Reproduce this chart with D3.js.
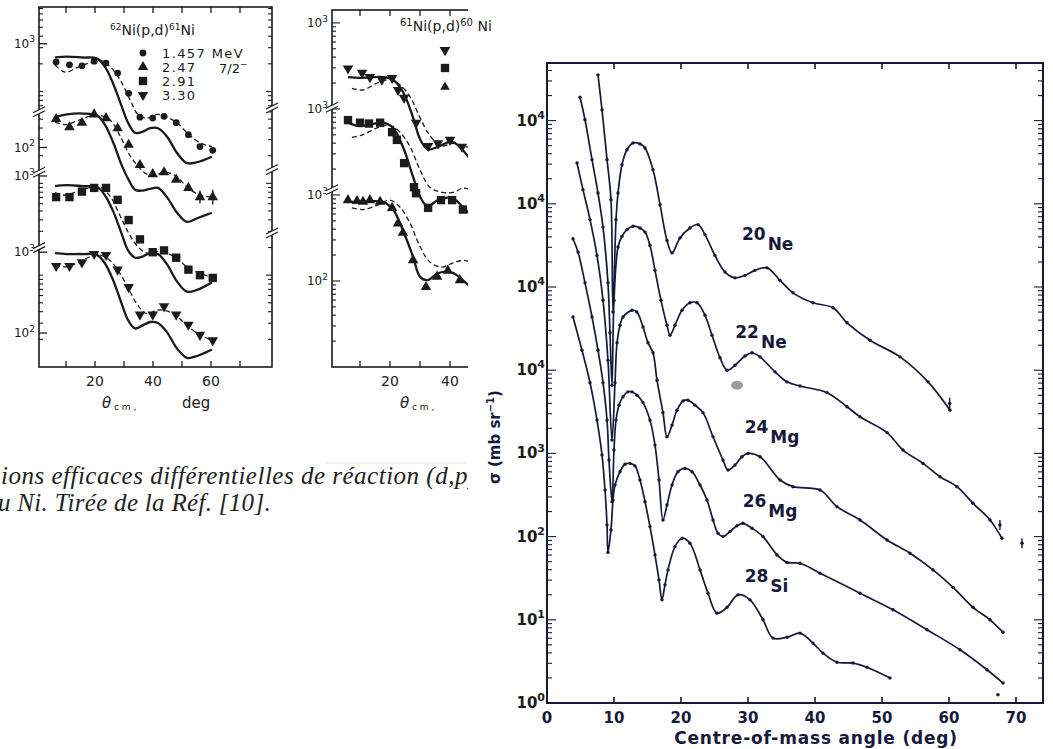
<!DOCTYPE html>
<html>
<head>
<meta charset="utf-8">
<script src="https://cdn.jsdelivr.net/npm/d3@7"></script>
<style>
  body { margin: 0; background: #fff; }
  svg { display: block; }
</style>
</head>
<body>
<svg id="figure"></svg>
<script>
// ---------------- right panel: elastic angular distributions ----------------
// values are log10(sigma) on the stacked (offset) axis, angles in degrees c.m.
const ne20Angle = [7.61, 8.21, 8.96, 9.55, 9.85, 10.30, 10.60, 11.19, 11.94, 12.84, 13.88, 14.63, 15.82, 16.87, 17.91, 18.66, 19.85, 21.34, 22.54, 23.58, 25.07, 26.57, 28.06, 29.55, 31.04, 32.84, 34.78, 36.72, 39.70, 42.69, 44.78, 48.21, 52.69, 56.87, 60.15];
const ne20Log = [7.55, 7.13, 6.53, 6.05, 4.70, 5.81, 6.13, 6.47, 6.65, 6.73, 6.72, 6.67, 6.41, 5.99, 5.56, 5.41, 5.59, 5.71, 5.75, 5.63, 5.38, 5.18, 5.11, 5.14, 5.20, 5.23, 5.08, 4.93, 4.81, 4.75, 4.57, 4.36, 4.16, 3.86, 3.52];

const ne22Angle = [4.93, 5.67, 6.72, 7.61, 8.36, 9.10, 9.40, 9.70, 10.0, 10.60, 11.19, 11.94, 12.84, 13.88, 14.63, 15.37, 16.12, 17.01, 17.91, 18.36, 19.10, 20.15, 21.34, 22.39, 23.58, 24.63, 25.82, 26.87, 28.06, 29.55, 30.60, 31.79, 34.03, 35.82, 37.76, 41.8, 44.78, 46.72, 50.75, 53.13, 56.12, 58.66, 61.19, 63.58, 66.12, 67.91];
const ne22Log = [7.28, 7.01, 6.53, 6.13, 5.72, 5.05, 4.45, 3.82, 4.84, 5.48, 5.61, 5.69, 5.73, 5.71, 5.66, 5.50, 5.20, 4.84, 4.54, 4.42, 4.54, 4.72, 4.81, 4.81, 4.66, 4.42, 4.15, 4.00, 4.06, 4.17, 4.21, 4.16, 3.98, 3.86, 3.81, 3.73, 3.56, 3.44, 3.25, 3.04, 2.88, 2.72, 2.60, 2.40, 2.20, 1.98];

const mg24Angle = [4.48, 5.37, 6.42, 7.46, 8.36, 9.10, 9.70, 10.15, 10.45, 10.90, 11.34, 12.69, 13.40, 14.33, 15.07, 15.82, 16.42, 17.31, 17.91, 18.66, 19.40, 20.30, 21.04, 22.09, 23.28, 24.78, 26.27, 27.01, 28.06, 29.10, 30.00, 31.79, 34.78, 36.72, 40.75, 43.28, 46.72, 50.75, 54.18, 57.61, 60.60, 63.58, 66.12, 68.06];
const mg24Log = [6.49, 6.17, 5.81, 5.38, 4.84, 4.12, 3.16, 3.85, 4.33, 4.54, 4.64, 4.72, 4.70, 4.52, 4.33, 4.21, 3.88, 3.49, 3.20, 3.34, 3.52, 3.63, 3.64, 3.58, 3.49, 3.20, 2.92, 2.80, 2.86, 2.96, 3.00, 2.96, 2.68, 2.60, 2.56, 2.36, 2.20, 1.96, 1.80, 1.60, 1.39, 1.15, 1.00, 0.85];

const mg26Angle = [3.88, 4.63, 5.67, 6.72, 7.61, 8.36, 8.96, 9.25, 9.70, 10.0, 10.30, 10.75, 11.34, 12.09, 12.69, 13.43, 14.33, 15.37, 16.12, 16.72, 17.31, 17.91, 18.66, 19.55, 20.60, 21.64, 22.84, 23.88, 24.78, 25.52, 26.27, 27.31, 28.36, 29.25, 30.60, 32.24, 34.33, 35.82, 37.76, 40.75, 46.72, 51.64, 56.72, 61.64, 65.67, 68.06];
const mg26Log = [5.58, 5.42, 5.05, 4.64, 4.24, 3.85, 3.40, 2.92, 2.42, 3.04, 3.40, 3.58, 3.68, 3.74, 3.74, 3.70, 3.61, 3.40, 3.10, 2.68, 2.20, 2.38, 2.62, 2.78, 2.82, 2.78, 2.62, 2.44, 2.20, 2.04, 2.00, 2.06, 2.13, 2.16, 2.10, 2.00, 1.78, 1.69, 1.68, 1.56, 1.32, 1.12, 0.88, 0.64, 0.40, 0.24];

const si28Angle = [3.88, 5.22, 6.42, 7.46, 8.21, 8.66, 8.96, 9.10, 9.55, 9.85, 10.15, 10.90, 11.64, 12.39, 13.13, 13.88, 14.63, 15.37, 16.12, 16.72, 17.16, 17.61, 18.06, 19.10, 20.15, 21.34, 22.84, 24.03, 25.37, 26.87, 28.51, 30.30, 32.24, 33.73, 35.82, 37.76, 39.70, 41.19, 43.28, 45.67, 47.76, 51.19];
const si28Log = [4.64, 4.24, 3.85, 3.40, 2.98, 2.56, 2.14, 1.81, 2.08, 2.44, 2.62, 2.78, 2.87, 2.88, 2.85, 2.68, 2.42, 2.12, 1.78, 1.48, 1.24, 1.42, 1.60, 1.88, 1.98, 1.92, 1.60, 1.32, 1.08, 1.15, 1.30, 1.24, 1.00, 0.78, 0.79, 0.84, 0.72, 0.60, 0.49, 0.48, 0.43, 0.30];

// isolated points at large angles (with error bars)
const extraAngle = [60.1, 67.6, 70.9, 67.3];
const extraLog = [3.60, 2.14, 1.92, 0.10];
const extraErr = [0.07, 0.06, 0.06, 0];

const nucleusMass = ["20", "22", "24", "26", "28"];
const nucleusName = ["Ne", "Ne", "Mg", "Mg", "Si"];
const nucleusLabelAngle = [29.1, 28.1, 29.5, 29.2, 29.5];
const nucleusLabelLog = [5.56, 4.39, 3.25, 2.36, 1.45];

const rightXTicks = [0, 10, 20, 30, 40, 50, 60, 70];
const rightDecades = [0, 1, 2, 3, 4, 5, 6, 7];
const rightDecadeText = ["0", "1", "2", "3", "4", "4", "4", "4"];

// ---------------- left panel 1: 62Ni(p,d)61Ni ----------------
const p1Levels = ["1.457 MeV", "2.47", "2.91", "3.30"];
const p1SolidAngle = [6.2, 10.3, 15.9, 20.7, 23.4, 26.2, 29.3, 31.4, 33.8, 36.2, 39.0, 41.7, 44.8, 48.3, 51.7, 55.2, 60.3];
const p1Solid1 = [3.37, 3.38, 3.37, 3.36, 3.27, 3.09, 2.83, 2.66, 2.55, 2.56, 2.60, 2.60, 2.51, 2.33, 2.22, 2.23, 2.29];
const p1Solid2 = [2.72, 2.75, 2.76, 2.74, 2.64, 2.45, 2.19, 2.05, 1.93, 1.92, 1.94, 1.95, 1.85, 1.68, 1.58, 1.62, 1.68];
const p1Solid3 = [1.97, 1.98, 1.97, 1.96, 1.87, 1.70, 1.44, 1.27, 1.19, 1.20, 1.24, 1.23, 1.12, 0.93, 0.82, 0.84, 0.92];
const p1Solid4 = [1.24, 1.23, 1.23, 1.22, 1.13, 0.95, 0.68, 0.51, 0.42, 0.45, 0.49, 0.48, 0.38, 0.20, 0.10, 0.12, 0.19];
const p1DashAngle = [6.2, 9.7, 13.8, 19.0, 21.7, 25.2, 28.6, 32.1, 34.8, 37.9, 41.4, 44.8, 48.3, 51.7, 56.2, 60.3];
const p1Dash1 = [3.29, 3.21, 3.26, 3.32, 3.34, 3.27, 3.13, 2.91, 2.75, 2.71, 2.75, 2.72, 2.66, 2.55, 2.44, 2.40];
const p1Dash2 = [2.67, 2.64, 2.68, 2.74, 2.74, 2.69, 2.52, 2.30, 2.19, 2.10, 2.10, 2.12, 2.07, 1.96, 1.87, 1.85];
const p1Dash3 = [1.90, 1.87, 1.91, 1.96, 1.96, 1.86, 1.65, 1.43, 1.31, 1.24, 1.26, 1.24, 1.18, 1.09, 1.02, 0.98];
const p1Dash4 = [1.11, 1.09, 1.13, 1.21, 1.22, 1.16, 1.02, 0.82, 0.67, 0.58, 0.62, 0.61, 0.55, 0.45, 0.35, 0.29];
const p1MarkAngle = [6.6, 11.2, 15.5, 19.7, 23.8, 27.8, 31.6, 35.5, 39.9, 43.8, 48.0, 52.2, 56.2, 60.6];
const p1Mark1 = [3.32, 3.29, 3.28, 3.33, 3.31, 3.20, 2.98, 2.72, 2.71, 2.73, 2.66, 2.53, 2.40, 2.36];
const p1Mark2 = [2.70, 2.61, 2.66, 2.75, 2.71, 2.60, 2.42, 2.20, 2.10, 2.12, 2.04, 1.95, 1.85, 1.85];
const p1Mark3 = [1.85, 1.85, 1.91, 1.95, 1.95, 1.82, 1.60, 1.39, 1.25, 1.27, 1.19, 1.06, 1.00, 0.97];
const p1Mark4 = [1.10, 1.10, 1.14, 1.23, 1.22, 1.06, 0.87, 0.57, 0.57, 0.66, 0.57, 0.46, 0.35, 0.29];
const p1Mark2Err = [0, 0, 0, 0, 0, 0, 0, 0, 0, 0, 0, 0, 0.07, 0.08];
const p1LabelLog = [3.52, 2.39, 2.08, 1.25, 0.37];
const p1LabelText = ["3", "2", "3", "3", "2"];
const p1BreakLeft = [2.78, 2.12, 1.30];
const p1BreakRight = [2.82, 2.15, 1.46];

// ---------------- left panel 2: 61Ni(p,d)60Ni ----------------
const p2SolidAngle = [6.0, 10.0, 17.7, 21.0, 24.3, 27.7, 30.0, 32.5, 36.0, 40.5, 44.3, 47.0];
const p2SolidA = [3.37, 3.36, 3.37, 3.34, 3.20, 2.90, 2.65, 2.53, 2.56, 2.62, 2.52, 2.40];
const p2SolidB = [2.84, 2.80, 2.84, 2.78, 2.56, 2.21, 1.98, 1.87, 1.94, 1.97, 1.86, 1.76];
const p2SolidC = [1.92, 1.92, 1.92, 1.83, 1.59, 1.28, 1.05, 1.01, 1.09, 1.10, 1.01, 0.92];
const p2DashAngle = [7.3, 11.0, 15.7, 20.0, 23.3, 26.7, 30.0, 33.3, 37.3, 41.0, 44.3, 47.0];
const p2DashA = [3.24, 3.22, 3.30, 3.34, 3.28, 3.14, 2.90, 2.69, 2.57, 2.60, 2.57, 2.55];
const p2DashB = [2.67, 2.70, 2.78, 2.81, 2.73, 2.56, 2.29, 2.09, 2.03, 2.03, 2.08, 2.06];
const p2DashC = [1.85, 1.83, 1.88, 1.94, 1.86, 1.67, 1.40, 1.22, 1.16, 1.21, 1.24, 1.22];
const p2MarkAngleA = [6.0, 10.7, 13.3, 17.3, 20.7, 22.7, 24.7, 28.7, 32.7, 36.0, 40.0, 44.0];
const p2MarkA = [3.47, 3.42, 3.37, 3.34, 3.36, 3.22, 3.13, 2.84, 2.57, 2.60, 2.64, 2.56];
const p2MarkAngleB = [6.0, 10.0, 13.0, 16.7, 20.7, 22.3, 24.7, 28.0, 28.7, 32.7, 37.0, 40.7, 44.3];
const p2MarkB = [2.87, 2.84, 2.83, 2.84, 2.73, 2.64, 2.37, 2.09, 2.02, 1.85, 1.94, 1.94, 1.83];
const p2MarkAngleC = [6.0, 9.0, 11.0, 13.3, 16.7, 20.7, 22.7, 24.3, 27.7, 32.0, 35.7, 39.3, 43.3];
const p2MarkC = [1.94, 1.93, 1.92, 1.94, 1.92, 1.85, 1.67, 1.56, 1.24, 0.93, 1.05, 1.12, 1.01];
const p2LabelLog = [4, 3, 2, 1];
const p2LabelText = ["3", "3", "3", "2"];
const p2BreakLeft = [3.02, 2.06];

const leftXTicks = [10, 20, 30, 40, 50, 60, 70];
const leftXLabels = [20, 40, 60];

// ---------------------------------------------------------------------------
const pw = v => Math.pow(10, v);
const ink = "#1b1b1b";
const navy = "#16193a";

const svg = d3.select("#figure")
  .attr("width", 1053)
  .attr("height", 749)
  .style("font-family", "'DejaVu Sans', sans-serif");

svg.append("rect").attr("width", 1053).attr("height", 749).attr("fill", "#fff");

svg.append("defs").append("clipPath").attr("id", "leftClip")
  .append("rect").attr("x", 0).attr("y", 0).attr("width", 468).attr("height", 749);

function curve(g, x, y, angles, logs, color, width, dash) {
  const line = d3.line()
    .x((d, i) => x(angles[i]))
    .y(d => y(pw(d)))
    .curve(d3.curveCatmullRom.alpha(0.5));
  g.append("path")
    .attr("d", line(logs))
    .attr("fill", "none")
    .attr("stroke", color)
    .attr("stroke-width", width)
    .attr("stroke-dasharray", dash || null)
    .attr("stroke-linejoin", "round");
}

function markers(g, x, y, angles, logs, type, size, rotate, errs) {
  const sym = d3.symbol().type(type).size(size);
  logs.forEach((v, i) => {
    const px = x(angles[i]), py = y(pw(v));
    if (errs && errs[i]) {
      g.append("line")
        .attr("x1", px).attr("x2", px)
        .attr("y1", y(pw(v + errs[i]))).attr("y2", y(pw(v - errs[i])))
        .attr("stroke", ink).attr("stroke-width", 1.4);
    }
    g.append("path")
      .attr("d", sym())
      .attr("transform", "translate(" + px + "," + py + ")" + (rotate ? " rotate(180)" : ""))
      .attr("fill", ink);
  });
}

function logTicks(g, axisX, dir, y, decades, top, bottom, lenMaj, lenMin, color) {
  decades.forEach(n => {
    for (let k = 1; k <= 9; k++) {
      const py = y(pw(n) * k);
      if (py < top + 1 || py > bottom - 1) continue;
      g.append("line")
        .attr("x1", axisX).attr("x2", axisX + dir * (k === 1 ? lenMaj : lenMin))
        .attr("y1", py).attr("y2", py)
        .attr("stroke", color).attr("stroke-width", 1.1);
    }
  });
}

function breakMark(g, px, py) {
  g.append("polygon")
    .attr("points", [[px - 6, py + 5], [px + 6, py - 1], [px + 6, py - 5], [px - 6, py + 1]].join(" "))
    .attr("fill", "#fff");
  [0, 4].forEach(o => {
    g.append("line")
      .attr("x1", px - 6).attr("y1", py + 1 + o)
      .attr("x2", px + 6).attr("y2", py - 5 + o)
      .attr("stroke", ink).attr("stroke-width", 1.2);
  });
}

function decadeLabel(g, px, py, exp, size, supSize, weight) {
  const t = g.append("text")
    .attr("x", px).attr("y", py)
    .attr("text-anchor", "end")
    .attr("font-size", size)
    .attr("font-weight", weight)
    .attr("fill", ink);
  t.append("tspan").text("10");
  t.append("tspan").attr("dy", -size * 0.45).attr("font-size", supSize).text(exp);
}

// ============================ panel 1 ============================
const b1 = { left: 39, right: 272, top: 7, bottom: 367 };
const x1 = d3.scaleLinear().domain([0, 80]).range([37, 269]);
const y1 = d3.scaleLog().domain([1, pw(3.92)]).range([b1.bottom, b1.top]);
const g1 = svg.append("g");

g1.append("rect")
  .attr("x", b1.left).attr("y", b1.top)
  .attr("width", b1.right - b1.left).attr("height", b1.bottom - b1.top)
  .attr("fill", "none").attr("stroke", ink).attr("stroke-width", 1.6);

leftXTicks.forEach(a => {
  const px = x1(a);
  g1.append("line").attr("x1", px).attr("x2", px).attr("y1", b1.top).attr("y2", b1.top + 6)
    .attr("stroke", ink).attr("stroke-width", 1.3);
  g1.append("line").attr("x1", px).attr("x2", px).attr("y1", b1.bottom).attr("y2", b1.bottom - 6)
    .attr("stroke", ink).attr("stroke-width", 1.3);
});
leftXLabels.forEach(a => {
  g1.append("text").attr("x", x1(a)).attr("y", 386).attr("text-anchor", "middle")
    .attr("font-size", 14).attr("fill", ink).text(a);
});

logTicks(g1, b1.left, 1, y1, [0, 1, 2, 3], b1.top, b1.bottom, 4, 4, ink);
logTicks(g1, b1.right, -1, y1, [0, 1, 2, 3], b1.top, b1.bottom, 6, 4, ink);
p1LabelLog.forEach((u, i) => {
  const py = y1(pw(u));
  g1.append("line").attr("x1", b1.left).attr("x2", b1.left + 8).attr("y1", py).attr("y2", py)
    .attr("stroke", ink).attr("stroke-width", 1.3);
  decadeLabel(g1, 35, py + 4, p1LabelText[i], 12, 9, "normal");
});
p1BreakLeft.forEach(u => breakMark(g1, b1.left, y1(pw(u))));
p1BreakRight.forEach(u => breakMark(g1, b1.right, y1(pw(u))));

[p1Solid1, p1Solid2, p1Solid3, p1Solid4].forEach(s => curve(g1, x1, y1, p1SolidAngle, s, ink, 2.3));
[p1Dash1, p1Dash2, p1Dash3, p1Dash4].forEach(s => curve(g1, x1, y1, p1DashAngle, s, ink, 1.3, "5,3"));
markers(g1, x1, y1, p1MarkAngle, p1Mark1, d3.symbolCircle, 36);
markers(g1, x1, y1, p1MarkAngle, p1Mark2, d3.symbolTriangle, 48, false, p1Mark2Err);
markers(g1, x1, y1, p1MarkAngle, p1Mark3, d3.symbolSquare, 70);
markers(g1, x1, y1, p1MarkAngle, p1Mark4, d3.symbolTriangle, 48, true);

// title and legend
const t1 = g1.append("text").attr("x", 110).attr("y", 35).attr("font-size", 14).attr("fill", ink);
t1.append("tspan").attr("font-size", 9).attr("dy", -5).text("62");
t1.append("tspan").attr("dy", 5).text("Ni(p,d)");
t1.append("tspan").attr("font-size", 9).attr("dy", -5).text("61");
t1.append("tspan").attr("dy", 5).text("Ni");

const legendSyms = [d3.symbolCircle, d3.symbolTriangle, d3.symbolSquare, d3.symbolTriangle];
const legendSizes = [36, 48, 70, 48];
const legendY = [53, 67, 81, 95];
p1Levels.forEach((lab, i) => {
  g1.append("path")
    .attr("d", d3.symbol().type(legendSyms[i]).size(legendSizes[i])())
    .attr("transform", "translate(143," + legendY[i] + ")" + (i === 3 ? " rotate(180)" : ""))
    .attr("fill", ink);
  g1.append("text").attr("x", 162).attr("y", legendY[i] + 5)
    .attr("font-size", 13).attr("letter-spacing", 1.4).attr("fill", ink).text(lab);
});
const spin = g1.append("text").attr("x", 219).attr("y", legendY[1] + 6).attr("font-size", 13).attr("fill", ink);
spin.append("tspan").text("7/2");
spin.append("tspan").attr("dy", -6).attr("font-size", 9).text("\u2212");

const xt1 = g1.append("text").attr("y", 408).attr("fill", ink);
xt1.append("tspan").attr("x", 102).attr("font-size", 15).attr("font-style", "italic").text("\u03B8");
xt1.append("tspan").attr("font-size", 9).attr("dy", 2).text(" c m ,");
xt1.append("tspan").attr("x", 182).attr("dy", -2).attr("font-size", 15).text("deg");

// ============================ panel 2 ============================
const b2 = { left: 332, right: 560, top: 10, bottom: 367 };
const x2 = d3.scaleLinear().domain([0, 80]).range([330, 570]);
const y2 = d3.scaleLog().domain([1, pw(4.15)]).range([b2.bottom, b2.top]);
const g2 = svg.append("g").attr("clip-path", "url(#leftClip)");

g2.append("rect")
  .attr("x", b2.left).attr("y", b2.top)
  .attr("width", b2.right - b2.left).attr("height", b2.bottom - b2.top)
  .attr("fill", "none").attr("stroke", ink).attr("stroke-width", 1.6);
leftXTicks.forEach(a => {
  const px = x2(a);
  g2.append("line").attr("x1", px).attr("x2", px).attr("y1", b2.top).attr("y2", b2.top + 6)
    .attr("stroke", ink).attr("stroke-width", 1.3);
  g2.append("line").attr("x1", px).attr("x2", px).attr("y1", b2.bottom).attr("y2", b2.bottom - 6)
    .attr("stroke", ink).attr("stroke-width", 1.3);
});
[20, 40].forEach(a => {
  g2.append("text").attr("x", x2(a)).attr("y", 386).attr("text-anchor", "middle")
    .attr("font-size", 14).attr("fill", ink).text(a);
});
logTicks(g2, b2.left, 1, y2, [0, 1, 2, 3, 4], b2.top, b2.bottom, 8, 4, ink);
p2LabelLog.forEach((u, i) => decadeLabel(g2, 328, y2(pw(u)) + 4, p2LabelText[i], 12, 9, "normal"));
p2BreakLeft.forEach(u => breakMark(g2, b2.left, y2(pw(u))));

[p2SolidA, p2SolidB, p2SolidC].forEach(s => curve(g2, x2, y2, p2SolidAngle, s, ink, 2.3));
[p2DashA, p2DashB, p2DashC].forEach(s => curve(g2, x2, y2, p2DashAngle, s, ink, 1.3, "5,3"));
markers(g2, x2, y2, p2MarkAngleA, p2MarkA, d3.symbolTriangle, 48, true);
markers(g2, x2, y2, p2MarkAngleB, p2MarkB, d3.symbolSquare, 70);
markers(g2, x2, y2, p2MarkAngleC, p2MarkC, d3.symbolTriangle, 48);

[[d3.symbolTriangle, 50, true], [d3.symbolSquare, 70, false], [d3.symbolTriangle, 40, false]].forEach((s, i) => {
  g2.append("path")
    .attr("d", d3.symbol().type(s[0]).size(s[1])())
    .attr("transform", "translate(445," + [50, 68, 87][i] + ")" + (s[2] ? " rotate(180)" : ""))
    .attr("fill", ink);
});
const xt2 = g2.append("text").attr("y", 408).attr("fill", ink);
xt2.append("tspan").attr("x", 400).attr("font-size", 15).attr("font-style", "italic").text("\u03B8");
xt2.append("tspan").attr("font-size", 9).attr("dy", 2).text(" c m ,");

const t2 = svg.append("text").attr("x", 400).attr("y", 31).attr("font-size", 14).attr("fill", ink);
t2.append("tspan").attr("font-size", 10).attr("dy", -5).text("61");
t2.append("tspan").attr("dy", 5).text("Ni(p,d)");
t2.append("tspan").attr("font-size", 10).attr("dy", -5).text("60");
t2.append("tspan").attr("dy", 5).text(" Ni");

// caption (cut by the overlaid figure)
const cap = svg.append("g").attr("clip-path", "url(#leftClip)");
cap.append("line").attr("x1", 325).attr("x2", 467).attr("y1", 463).attr("y2", 463)
  .attr("stroke", "#e2e2e2").attr("stroke-width", 1.2);
cap.append("text").attr("x", 1).attr("y", 484)
  .attr("font-family", "'Liberation Serif', serif").attr("font-style", "italic")
  .attr("font-size", 25).attr("letter-spacing", 0.5).attr("fill", "#222")
  .text("ions efficaces diff\u00e9rentielles de r\u00e9action (d,p)");
cap.append("text").attr("x", -2).attr("y", 511)
  .attr("font-family", "'Liberation Serif', serif").attr("font-style", "italic")
  .attr("font-size", 25).attr("letter-spacing", 0.3).attr("fill", "#222")
  .text("u Ni. Tir\u00e9e de la R\u00e9f. [10].");

// ============================ right panel ============================
const bR = { left: 547, right: 1043, top: 63, bottom: 703 };
const xR = d3.scaleLinear().domain([0, 70]).range([547, 1016]);
const yR = d3.scaleLog().domain([1, pw(7.6923)]).range([bR.bottom, bR.top]);
const gR = svg.append("g");

gR.append("rect")
  .attr("x", bR.left).attr("y", bR.top)
  .attr("width", bR.right - bR.left).attr("height", bR.bottom - bR.top)
  .attr("fill", "none").attr("stroke", navy).attr("stroke-width", 2);

rightXTicks.forEach(a => {
  const px = xR(a);
  if (px > bR.left + 1) {
    gR.append("line").attr("x1", px).attr("x2", px).attr("y1", bR.top).attr("y2", bR.top + 6)
      .attr("stroke", navy).attr("stroke-width", 1.6);
    gR.append("line").attr("x1", px).attr("x2", px).attr("y1", bR.bottom).attr("y2", bR.bottom - 6)
      .attr("stroke", navy).attr("stroke-width", 1.6);
  }
  gR.append("text").attr("x", px).attr("y", 723).attr("text-anchor", "middle")
    .attr("font-size", 15).attr("font-weight", "bold").attr("fill", navy).text(a);
});

logTicks(gR, bR.left, 1, yR, rightDecades, bR.top, bR.bottom + 2, 9, 5, navy);
logTicks(gR, bR.right, -1, yR, rightDecades, bR.top, bR.bottom + 2, 9, 5, navy);
rightDecades.forEach((n, i) => decadeLabel(gR, 545, yR(pw(n)) + 5, rightDecadeText[i], 15, 11, "bold"));

gR.append("text").attr("x", 816).attr("y", 744).attr("text-anchor", "middle")
  .attr("font-size", 17).attr("letter-spacing", 0.8).attr("font-weight", "bold").attr("fill", navy)
  .text("Centre-of-mass angle (deg)");

const yt = gR.append("text").attr("transform", "translate(500,437) rotate(-90)")
  .attr("text-anchor", "middle").attr("font-size", 15).attr("font-weight", "bold").attr("fill", navy);
yt.append("tspan").text("\u03C3 (mb sr");
yt.append("tspan").attr("dy", -6).attr("font-size", 10).text("\u22121");
yt.append("tspan").attr("dy", 6).text(")");

const seriesR = [
  [ne20Angle, ne20Log], [ne22Angle, ne22Log], [mg24Angle, mg24Log],
  [mg26Angle, mg26Log], [si28Angle, si28Log]
];
seriesR.forEach(s => {
  curve(gR, xR, yR, s[0], s[1], navy, 1.7);
  gR.selectAll(null).data(s[1]).enter().append("circle")
    .attr("cx", (d, i) => xR(s[0][i]))
    .attr("cy", d => yR(pw(d)))
    .attr("r", 1.7)
    .attr("fill", navy);
});

extraLog.forEach((v, i) => {
  const px = xR(extraAngle[i]);
  if (extraErr[i]) {
    gR.append("line").attr("x1", px).attr("x2", px)
      .attr("y1", yR(pw(v + extraErr[i]))).attr("y2", yR(pw(v - extraErr[i])))
      .attr("stroke", navy).attr("stroke-width", 1.4);
  }
  gR.append("circle").attr("cx", px).attr("cy", yR(pw(v))).attr("r", 1.8).attr("fill", navy);
});

// grey smudge on the scan
gR.append("ellipse").attr("cx", xR(28.36)).attr("cy", yR(pw(3.82)))
  .attr("rx", 6).attr("ry", 4.5).attr("fill", "#9c9c9c");

nucleusMass.forEach((m, i) => {
  const t = gR.append("text")
    .attr("x", xR(nucleusLabelAngle[i]))
    .attr("y", yR(pw(nucleusLabelLog[i])))
    .attr("font-size", 17).attr("font-weight", "bold").attr("fill", navy);
  t.append("tspan").text(m);
  t.append("tspan").attr("dx", 2).attr("dy", 10).text(nucleusName[i]);
});
</script>
</body>
</html>
